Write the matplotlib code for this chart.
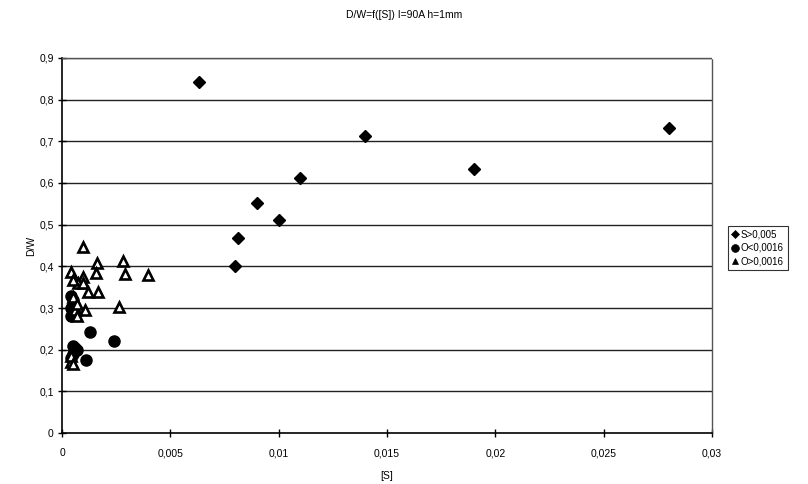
import matplotlib
matplotlib.use("Agg")
import matplotlib.pyplot as plt
from matplotlib.ticker import FixedLocator, FuncFormatter

plt.rcParams['font.family'] = ['Liberation Sans', 'DejaVu Sans']

title = "D/W=f([S]) I=90A h=1mm"
x_label = "[S]"
y_label = "D/W"
series_names = ["S>0,005", "O<0,0016", "O>0,0016"]

s_x = [0.0063, 0.0080, 0.0081, 0.0090, 0.0100, 0.0110, 0.0140, 0.0190, 0.0280]
s_y = [0.842, 0.400, 0.469, 0.552, 0.512, 0.613, 0.713, 0.634, 0.731]

o_low_x = [0.0004, 0.0005, 0.0004, 0.0005, 0.0006, 0.0004, 0.0005, 0.0006,
           0.0007, 0.0005, 0.0004, 0.0011, 0.0013, 0.0024]
o_low_y = [0.330, 0.320, 0.300, 0.290, 0.285, 0.280, 0.210, 0.205,
           0.200, 0.190, 0.180, 0.175, 0.242, 0.222]

o_high_x = [0.00095, 0.00163, 0.00283, 0.00042, 0.00098, 0.00155, 0.00290,
            0.00398, 0.00075, 0.00052, 0.00098, 0.00121, 0.00165, 0.00050,
            0.00265, 0.00106, 0.00060, 0.00070, 0.00040, 0.00040, 0.00050,
            0.00070]
o_high_y = [0.447, 0.407, 0.413, 0.387, 0.375, 0.383, 0.381,
            0.379, 0.359, 0.367, 0.360, 0.339, 0.339, 0.327,
            0.303, 0.295, 0.295, 0.280, 0.170, 0.185, 0.165,
            0.310]

x_ticks = [0, 0.005, 0.01, 0.015, 0.02, 0.025, 0.03]
y_ticks = [0, 0.1, 0.2, 0.3, 0.4, 0.5, 0.6, 0.7, 0.8, 0.9]


def comma_fmt(v, pos=None):
    if abs(v) < 1e-12:
        return "0"
    s = ("%.3f" % v).rstrip("0").rstrip(".")
    return s.replace(".", ",")


fig = plt.figure(figsize=(8.08, 4.84), dpi=100)
ax = fig.add_axes([62 / 808, 1 - 433 / 484, 650 / 808, 375 / 484])

ax.set_xlim(0, 0.03)
ax.set_ylim(0, 0.9)
ax.xaxis.set_major_locator(FixedLocator(x_ticks))
ax.yaxis.set_major_locator(FixedLocator(y_ticks))
ax.xaxis.set_major_formatter(FuncFormatter(comma_fmt))
ax.yaxis.set_major_formatter(FuncFormatter(comma_fmt))

for y in y_ticks[1:]:
    ax.axhline(y, color="#222222", lw=1.0, zorder=1)

ax.plot(s_x, s_y, linestyle="none", marker="D", ms=6.5, color="black",
        label=series_names[0], zorder=3)
ax.plot(o_low_x, o_low_y, linestyle="none", marker="o", ms=8, color="black",
        label=series_names[1], zorder=3)
ax.plot(o_high_x, o_high_y, linestyle="none", marker="^", ms=6.8,
        markerfacecolor="white", markeredgecolor="black", mew=1.9,
        label=series_names[2], zorder=4)

for side in ("top", "right"):
    ax.spines[side].set_linestyle((0, (1, 1)))
    ax.spines[side].set_color("#555555")
    ax.spines[side].set_linewidth(1.0)
for side in ("left", "bottom"):
    ax.spines[side].set_color("black")
    ax.spines[side].set_linewidth(1.2)

ax.tick_params(direction="inout", length=6, width=1, labelsize=7.5,
               colors="black")
ax.tick_params(axis="x", pad=8)
ax.tick_params(axis="y", pad=3)

ax.set_xlabel(x_label, fontsize=7.5, labelpad=9)
ax.set_ylabel(y_label, fontsize=7.5, labelpad=2)
fig.text(0.5, 1 - 15 / 484, title, ha="center", va="center", fontsize=7.5)

leg = fig.legend(loc="center left", bbox_to_anchor=(728 / 808, 1 - 248 / 484),
                 fontsize=7, frameon=True, fancybox=False, edgecolor="black",
                 handlelength=0.6, handletextpad=0.3, borderpad=0.4,
                 labelspacing=0.35, markerscale=0.7, borderaxespad=0)
leg.get_frame().set_linewidth(0.8)
for h in leg.legend_handles:
    h.set_markerfacecolor("black")
    h.set_markeredgewidth(0.5)

fig.savefig("out.png", dpi=100)
